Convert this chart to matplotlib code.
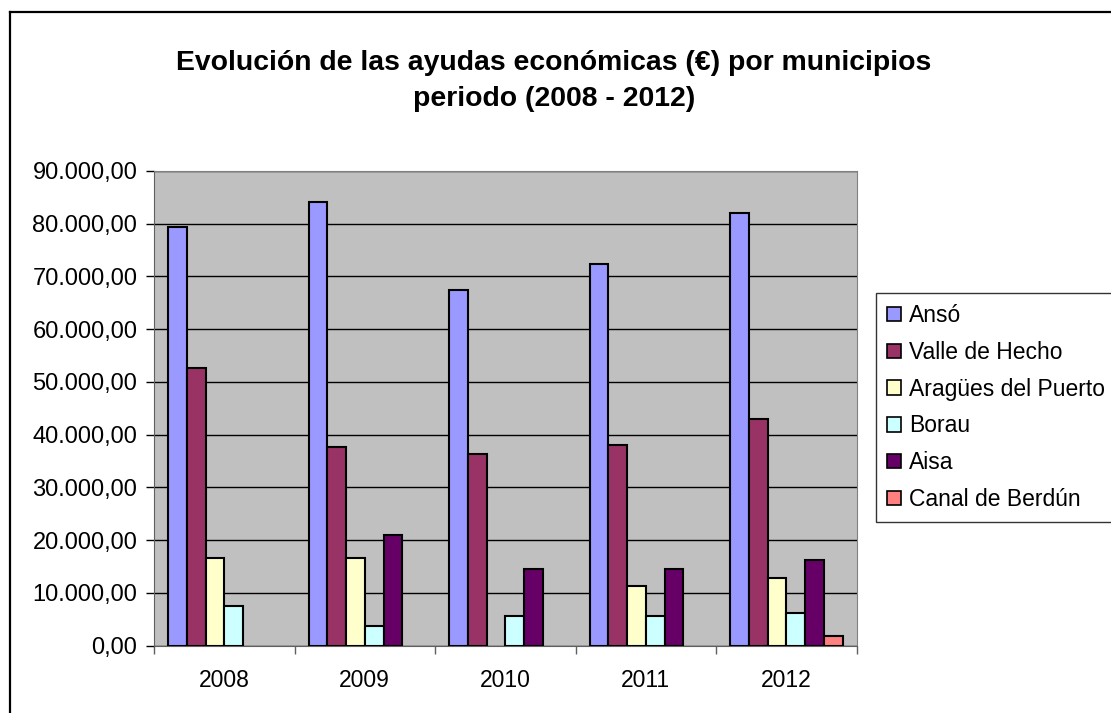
import numpy as np
import matplotlib
matplotlib.use('Agg')
import matplotlib.pyplot as plt
from matplotlib.lines import Line2D
from matplotlib.patches import Patch
from matplotlib.ticker import FuncFormatter, FixedLocator

plt.rcParams['font.family'] = ['Liberation Sans', 'DejaVu Sans']

years = ['2008', '2009', '2010', '2011', '2012']
municipios = ['Ansó', 'Valle de Hecho', 'Aragües del Puerto', 'Borau', 'Aisa', 'Canal de Berdún']
colores = ['#9999FF', '#993366', '#FFFFCC', '#CCFFFF', '#660066', '#FF8080']

anso = [79300, 84100, 67500, 72300, 82000]
valle_hecho = [52600, 37700, 36300, 38000, 43000]
aragues = [16700, 16700, 0, 11400, 12850]
borau = [7600, 3800, 5550, 5550, 6250]
aisa = [0, 21050, 14550, 14550, 16300]
canal_berdun = [0, 0, 0, 0, 1750]
series = [anso, valle_hecho, aragues, borau, aisa, canal_berdun]

W, H = 1111, 713
fig = plt.figure(figsize=(W / 100, H / 100), dpi=100)
ax = fig.add_axes([154 / W, 1 - 645.7 / H, (856.7 - 154) / W, (645.7 - 171) / H])
ax.set_facecolor('#C0C0C0')

n = len(series)
bw = 1.0 / (n + 1.5)
x = np.arange(len(years))
for i, (vals, col, name) in enumerate(zip(series, colores, municipios)):
    vals = np.array(vals, dtype=float)
    xpos = x - 0.5 + 0.75 * bw + i * bw + bw / 2
    m = vals > 0
    ax.bar(xpos[m], vals[m], width=bw, color=col, edgecolor='black',
           linewidth=1.5, zorder=3)

ax.set_xlim(-0.5, len(years) - 0.5)
ax.set_ylim(0, 90000)
ax.set_yticks(np.arange(0, 90001, 10000))
ax.yaxis.set_major_formatter(FuncFormatter(
    lambda v, p: '{:,.2f}'.format(v).replace(',', 'X').replace('.', ',').replace('X', '.')))
ax.grid(axis='y', color='black', linewidth=1, zorder=1)

ax.xaxis.set_major_locator(FixedLocator(np.arange(-0.5, len(years), 1)))
ax.xaxis.set_minor_locator(FixedLocator(x))
ax.set_xticklabels([], minor=False)
ax.set_xticklabels(years, minor=True)
ax.tick_params(axis='x', which='minor', length=0, labelsize=16.5, pad=17)
ax.tick_params(axis='x', which='major', length=6, width=1, color='#606060')
ax.tick_params(axis='y', length=6, width=1, labelsize=17, pad=6)

for s in ['top', 'right']:
    ax.spines[s].set_color('#808080')
ax.spines['left'].set_color('#606060')
ax.spines['bottom'].set_color('#606060')

fig.text(554 / W, 1 - 81 / H,
         'Evolución de las ayudas económicas (€) por municipios\nperiodo (2008 - 2012)',
         ha='center', va='center', fontsize=20.4, fontweight='bold', linespacing=1.55)

handles = [Patch(facecolor=c, edgecolor='black', linewidth=1.2) for c in colores]
leg = fig.legend(handles, municipios, loc='upper left',
                 bbox_to_anchor=(876 / W, 1 - 292.7 / H), bbox_transform=fig.transFigure,
                 fontsize=16.5, frameon=True, fancybox=False, borderaxespad=0,
                 handlelength=0.6, handleheight=0.6, handletextpad=0.35,
                 labelspacing=0.6, borderpad=0.5)
leg.get_frame().set_edgecolor('black')
leg.get_frame().set_linewidth(1)

# outer chart border
fig.add_artist(Line2D([9.5 / W, 9.5 / W], [0, 1 - 12 / H], color='black', linewidth=1.6,
                      transform=fig.transFigure))
fig.add_artist(Line2D([9.5 / W, 1], [1 - 12 / H, 1 - 12 / H], color='black', linewidth=1.6,
                      transform=fig.transFigure))

fig.savefig('out.png', dpi=100)
